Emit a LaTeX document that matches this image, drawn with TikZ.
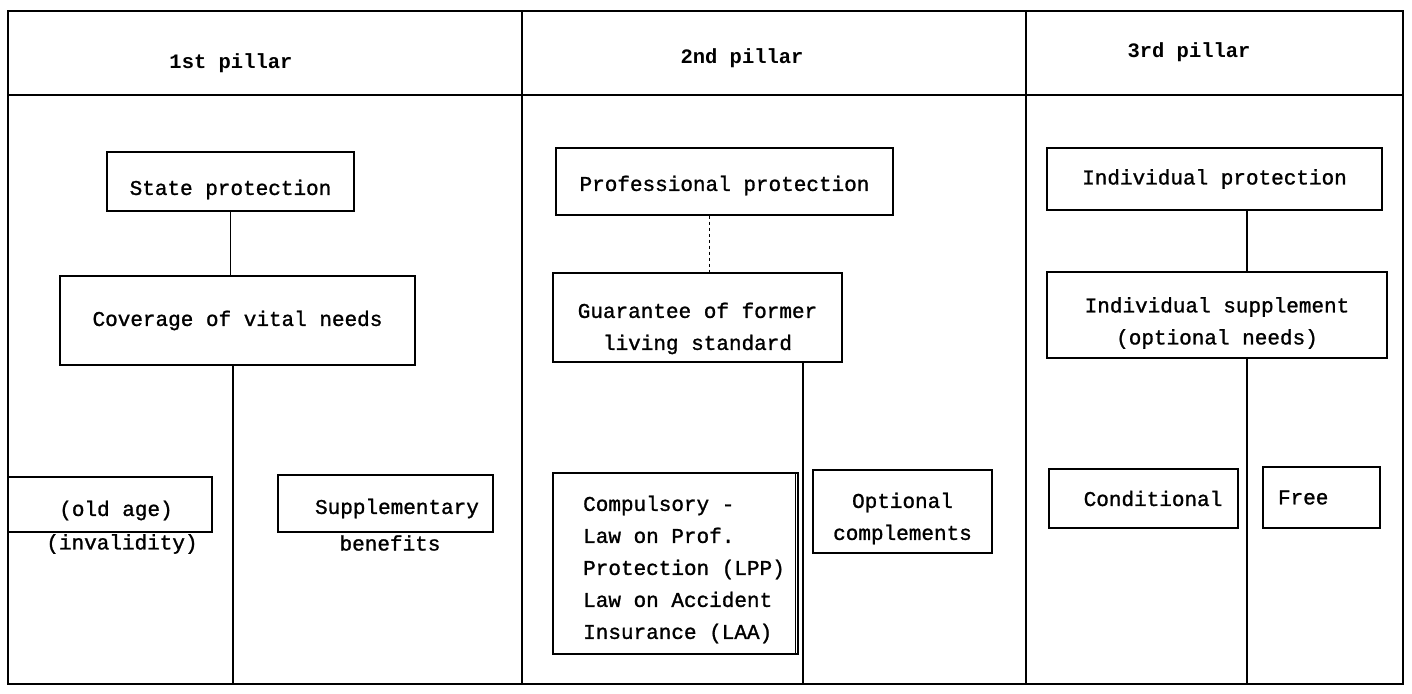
\documentclass[tikz,border=0pt]{standalone}
\usepackage{fontspec}
\newfontfamily\tw[FakeBold=1.2]{Liberation Mono}
\newfontfamily\twb{Liberation Mono}
\newcommand\lowr[2]{\raisebox{-#1}[\height][\depth]{#2}}
\begin{document}
\begin{tikzpicture}[x=1pt,y=-1pt,
  line width=1.4pt,
  every node/.style={font=\tw\fontsize{21}{32}\selectfont},
  hdr/.style={font=\twb\bfseries\fontsize{20.5}{32}\selectfont},
  bx/.style={draw, line width=1.4pt, inner sep=0pt, align=center},
  plain/.style={inner sep=0pt}]
\useasboundingbox (0,0) rectangle (1412,693);
% frame
\coordinate (tl) at (8,11);
\coordinate (br) at (1403,684);
\draw (tl) rectangle (br);
\draw (8,95) -- (1403,95);
\draw (522,11) -- (522,684);
\draw (1026,11) -- (1026,684);
% headers
\node[hdr] (h1) at (231,63) {1st pillar};
\node[hdr] (h2) at (742,58) {2nd pillar};
\node[hdr] (h3) at (1189,52) {3rd pillar};
% column 1
\node[bx, minimum width=247pt, minimum height=59pt] (state) at (230.5,181.5) {\lowr{8pt}{State protection}};
\node[bx, minimum width=355pt, minimum height=89pt] (cov) at (237.5,320.5) {Coverage of vital needs};
\node[bx, minimum width=204pt, minimum height=55pt] (old) at (110,504.5) {\lowr{6pt}{\hspace*{12pt}(old age)}};
\node[plain] (inv) at (122,544) {(invalidity)};
\node[bx, minimum width=215pt, minimum height=57pt] (supp) at (385.5,503.5) {\lowr{5pt}{\hspace*{23pt}Supplementary}};
\node[plain] (ben) at (390,543) {benefits};
\coordinate (b1) at (233,684);
\draw (state.south) -- (state.south |- cov.north);
\draw (cov.south -| b1) -- (b1);
% column 2
\node[bx, minimum width=337pt, minimum height=67pt] (prof) at (724.5,181.5) {\lowr{4pt}{Professional protection}};
\node[bx, minimum width=289pt, minimum height=89pt] (guar) at (697.5,317.5) {\lowr{10pt}{\begin{tabular}{@{}c@{}}Guarantee of former\\living standard\end{tabular}}};
\node[bx, minimum width=245pt, minimum height=181pt] (comp) at (675.5,563.5) {\lowr{5pt}{\hspace*{17pt}\begin{tabular}{@{}l@{}}Compulsory -\\Law on Prof.\\Protection (LPP)\\Law on Accident\\Insurance (LAA)\end{tabular}}};
\node[bx, minimum width=179pt, minimum height=83pt] (opt) at (902.5,511.5) {\lowr{6pt}{\begin{tabular}{@{}c@{}}Optional\\complements\end{tabular}}};
\draw ([xshift=-3pt]comp.north east) -- ([xshift=-3pt]comp.south east);
\coordinate (p2) at (709,0);
\coordinate (b2) at (803,684);
\draw[dashed, line width=1pt] (prof.south -| p2) -- (guar.north -| p2);
\draw (guar.south -| b2) -- (b2);
% column 3
\node[bx, minimum width=335pt, minimum height=62pt] (indp) at (1214.5,179) {Individual protection};
\node[bx, minimum width=340pt, minimum height=86pt] (inds) at (1217,315) {\lowr{7pt}{\begin{tabular}{@{}c@{}}Individual supplement\\(optional needs)\end{tabular}}};
\node[bx, minimum width=189pt, minimum height=59pt] (cond) at (1143.5,498.5) {\hspace*{19pt}Conditional};
\node[bx, text width=87pt, inner xsep=15pt, minimum height=61pt, align=left] (free) at (1321.5,497.5) {Free};
\coordinate (b3) at (1247,684);
\draw (indp.south -| b3) -- (inds.north -| b3);
\draw (inds.south -| b3) -- (b3);
\end{tikzpicture}
\end{document}
